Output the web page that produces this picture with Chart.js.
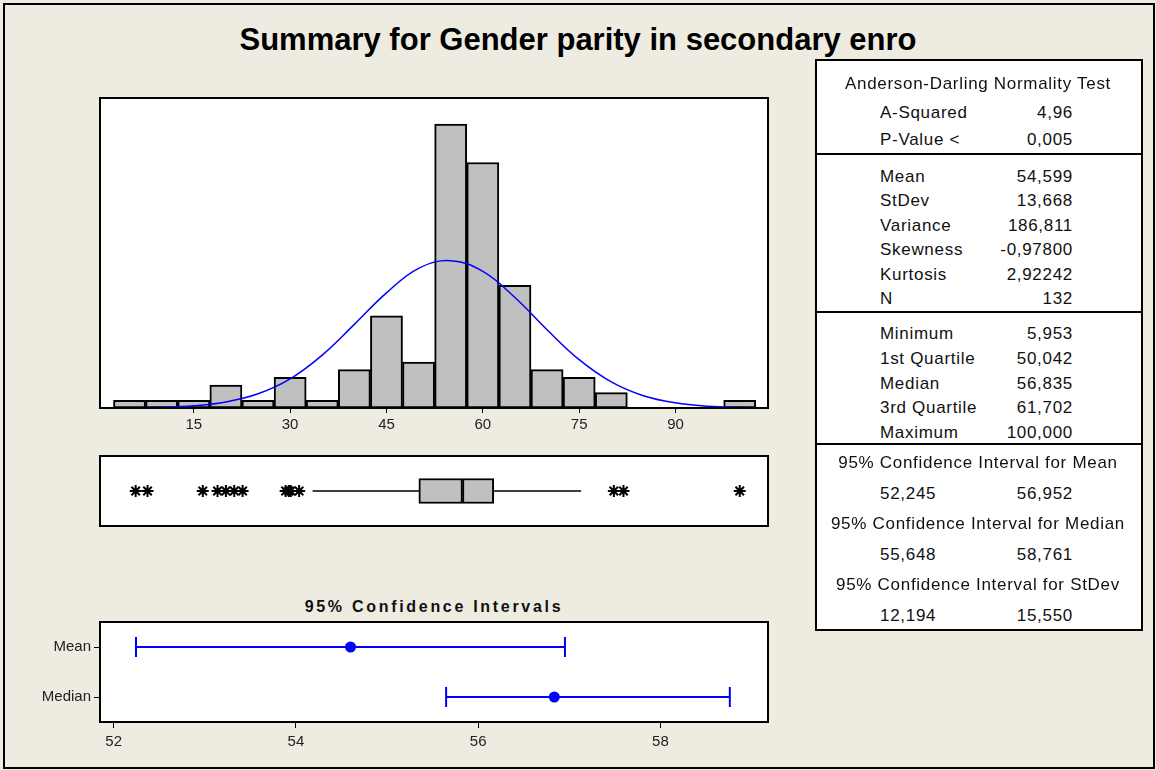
<!DOCTYPE html>
<html>
<head>
<meta charset="utf-8">
<script src="https://cdn.jsdelivr.net/npm/chart.js@4"></script>
<style>
body { margin: 0; background: #eeebe1; font-family: "Liberation Sans", Arial, sans-serif; }
#page { position: relative; width: 1156px; height: 770px; overflow: hidden; }
#outer { position: absolute; left: 3px; top: 3px; width: 1152px; height: 766px; border: 2px solid #000; box-sizing: border-box; }
canvas { position: absolute; }
.title { position: absolute; left: 178px; width: 800px; top: 20px; text-align: center; font-weight: bold; font-size: 31px; line-height: 40px; color: #000; }
.subtitle { position: absolute; left: 234px; width: 400px; top: 596px; text-align: center; font-weight: bold; font-size: 16px; line-height: 22px; letter-spacing: 2.7px; color: #111; }
#stats { position: absolute; left: 815px; top: 59px; width: 328px; height: 572px; background: #fff; border: 2px solid #000; box-sizing: border-box; }
.sep { position: absolute; left: 815px; width: 328px; height: 0; border-top: 2px solid #000; }
.t { position: absolute; height: 22px; line-height: 22px; font-size: 17px; letter-spacing: 0.7px; color: #111; white-space: nowrap; }
</style>
</head>
<body>
<div id="page">
  <div id="outer"></div>
  <div class="title">Summary for Gender parity in secondary enro</div>
  <canvas id="hist" width="690" height="350" style="left:90px;top:88px"></canvas>
  <canvas id="box" width="690" height="90" style="left:90px;top:446px"></canvas>
  <div class="subtitle">95% Confidence Intervals</div>
  <canvas id="ci" width="780" height="170" style="left:0px;top:590px"></canvas>
  <div id="stats"></div>
</div>
<script>
// histogram (bins of width 5)
const binCenters = [5, 10, 15, 20, 25, 30, 35, 40, 45, 50, 55, 60, 65, 70, 75, 80, 100];
const binCounts = [1, 1, 1, 3, 1, 4, 1, 5, 12, 6, 37, 32, 16, 5, 4, 2, 1];

// fitted normal curve
const curveX = [3.4, 5, 10, 15, 20, 25, 30, 35, 40, 45, 50, 55, 60, 65, 70, 75, 80, 85, 90, 95, 100, 104.4];
const curveY = [0.01, 0.03, 0.09, 0.29, 0.78, 1.85, 3.8, 6.9, 10.9, 15.0, 18.2, 19.2, 17.8, 14.4, 10.2, 6.3, 3.4, 1.6, 0.67, 0.24, 0.08, 0.03];
const xTicks = [15, 30, 45, 60, 75, 90];

// boxplot
const boxQ = [50.042, 56.835, 61.702];
const whiskers = [33.5, 75.3];
const outliers = [5.953, 7.8, 16.4, 18.7, 20.0, 21.3, 22.6, 29.3, 29.8, 30.1, 31.4, 80.4, 81.9, 100];

// confidence intervals
const ciLabels = ['Mean', 'Median'];
const ciLow = [52.245, 55.648];
const ciHigh = [56.952, 58.761];
const ciEst = [54.599, 56.835];
const ciTicks = [52, 54, 56, 58];

// stats table
const adHeader = 'Anderson-Darling Normality Test';
const adLabels = ['A-Squared', 'P-Value <'];
const adValues = ['4,96', '0,005'];
const descLabels = ['Mean', 'StDev', 'Variance', 'Skewness', 'Kurtosis', 'N'];
const descValues = ['54,599', '13,668', '186,811', '-0,97800', '2,92242', '132'];
const quartLabels = ['Minimum', '1st Quartile', 'Median', '3rd Quartile', 'Maximum'];
const quartValues = ['5,953', '50,042', '56,835', '61,702', '100,000'];
const ciHeaders = ['95% Confidence Interval for Mean', '95% Confidence Interval for Median', '95% Confidence Interval for StDev'];
const ciLowText = ['52,245', '55,648', '12,194'];
const ciHighText = ['56,952', '58,761', '15,550'];

const FONT = 'Liberation Sans, Arial, sans-serif';

// white plot area with a black frame
const framePlugin = {
  id: 'frame',
  beforeDraw(chart) {
    const { ctx, chartArea: a } = chart;
    ctx.save();
    ctx.fillStyle = '#fff';
    ctx.fillRect(a.left, a.top, a.width, a.height);
    ctx.restore();
  },
  afterDatasetsDraw(chart) {
    const { ctx, chartArea: a } = chart;
    ctx.save();
    ctx.strokeStyle = '#000';
    ctx.lineWidth = 2;
    ctx.strokeRect(a.left, a.top, a.width, a.height);
    ctx.restore();
  }
};

const baseOpts = {
  responsive: false,
  animation: false,
  events: [],
  plugins: { legend: { display: false }, tooltip: { enabled: false } }
};

new Chart(document.getElementById('hist'), {
  type: 'bar',
  data: {
    datasets: [
      {
        type: 'line',
        data: curveX.map((x, i) => ({ x, y: curveY[i] })),
        borderColor: '#0000ff',
        borderWidth: 1.5,
        pointRadius: 0,
        tension: 0.4,
        order: 0
      },
      {
        type: 'bar',
        data: binCenters.map((x, i) => ({ x, y: binCounts[i] })),
        backgroundColor: '#c0c0c0',
        borderColor: '#000',
        borderWidth: 2,
        borderSkipped: false,
        barPercentage: 1,
        categoryPercentage: 1,
        order: 1
      }
    ]
  },
  options: {
    ...baseOpts,
    layout: { padding: { left: 10, right: 12, top: 10, bottom: 0 } },
    scales: {
      x: {
        type: 'linear', min: 0.4, max: 104.4, offset: false,
        grid: { offset: false, drawOnChartArea: false, tickLength: 5, color: '#000' },
        border: { display: false },
        afterBuildTicks: s => { s.ticks = xTicks.map(v => ({ value: v })); },
        afterFit: s => { s.height = 30; },
        ticks: { font: { family: FONT, size: 15 }, color: '#222', padding: 3, maxRotation: 0, autoSkip: false }
      },
      y: { display: false, min: 0, max: 40.4 }
    }
  },
  plugins: [framePlugin]
});

new Chart(document.getElementById('box'), {
  type: 'bar',
  data: {
    datasets: [
      {
        type: 'line',
        data: [{ x: whiskers[0], y: 0.5 }, { x: whiskers[1], y: 0.5 }],
        borderColor: '#000', borderWidth: 1.5, pointRadius: 0, order: 3
      },
      {
        type: 'bar', indexAxis: 'y', grouped: false,
        data: [{ x: [boxQ[0], boxQ[1]], y: 0.5 }],
        backgroundColor: '#c0c0c0', borderColor: '#000', borderWidth: 2, borderSkipped: false,
        barThickness: 25, order: 2
      },
      {
        type: 'bar', indexAxis: 'y', grouped: false,
        data: [{ x: [boxQ[1], boxQ[2]], y: 0.5 }],
        backgroundColor: '#c0c0c0', borderColor: '#000', borderWidth: 2, borderSkipped: false,
        barThickness: 25, order: 2
      },
      {
        type: 'scatter',
        data: outliers.map(x => ({ x, y: 0.5 })),
        pointStyle: 'star', pointRadius: 6, borderColor: '#000', borderWidth: 2, order: 0
      }
    ]
  },
  options: {
    ...baseOpts,
    layout: { padding: { left: 10, right: 12, top: 10, bottom: 10 } },
    scales: {
      x: { type: 'linear', display: false, min: 0.4, max: 104.4, offset: false },
      y: { type: 'linear', display: false, min: 0, max: 1, offset: false }
    }
  },
  plugins: [framePlugin]
});

new Chart(document.getElementById('ci'), {
  type: 'line',
  data: {
    datasets: [
      ...ciLabels.map((lab, i) => ({
        data: [{ x: ciLow[i], y: lab }, { x: ciHigh[i], y: lab }],
        borderColor: '#0000ff', borderWidth: 2,
        pointStyle: 'line', pointRotation: 90, pointRadius: 10,
        pointBorderColor: '#0000ff', pointBorderWidth: 2
      })),
      {
        data: ciEst.map((x, i) => ({ x, y: ciLabels[i] })),
        showLine: false, pointStyle: 'circle', pointRadius: 5.5,
        backgroundColor: '#0000ff', borderColor: '#0000ff', pointBorderWidth: 0
      }
    ]
  },
  options: {
    ...baseOpts,
    layout: { padding: { left: 0, right: 12, top: 32, bottom: 0 } },
    scales: {
      x: {
        type: 'linear', min: 51.85, max: 59.18,
        grid: { drawOnChartArea: false, tickLength: 6, color: '#000' },
        border: { display: false },
        afterBuildTicks: s => { s.ticks = ciTicks.map(v => ({ value: v })); },
        afterFit: s => { s.height = 38; },
        ticks: { font: { family: FONT, size: 15 }, color: '#222', padding: 5, maxRotation: 0, autoSkip: false }
      },
      y: {
        type: 'category', labels: ciLabels, offset: true,
        grid: { drawOnChartArea: false, tickLength: 6, color: '#000' },
        border: { display: false },
        afterFit: s => { s.width = 100; },
        ticks: { font: { family: FONT, size: 15 }, color: '#222', padding: 3 }
      }
    }
  },
  plugins: [framePlugin]
});

// stats table text
const page = document.getElementById('page');
function put(str, x, y, align) {
  const d = document.createElement('div');
  d.className = 't';
  d.textContent = str;
  d.style.top = (y - 11) + 'px';
  if (align === 'right') d.style.right = (1156 - x) + 'px';
  else if (align === 'center') { d.style.left = (x - 200) + 'px'; d.style.width = '400px'; d.style.textAlign = 'center'; }
  else d.style.left = x + 'px';
  page.appendChild(d);
}
function sep(y) {
  const d = document.createElement('div');
  d.className = 'sep';
  d.style.top = (y - 1) + 'px';
  page.appendChild(d);
}
const LX = 880, RX = 1073, CX = 978;
put(adHeader, CX, 84, 'center');
adLabels.forEach((s, i) => { put(s, LX, 113 + i * 27, 'left'); put(adValues[i], RX, 113 + i * 27, 'right'); });
sep(154);
descLabels.forEach((s, i) => { put(s, LX, 177 + i * 24.4, 'left'); put(descValues[i], RX, 177 + i * 24.4, 'right'); });
sep(312);
quartLabels.forEach((s, i) => { put(s, LX, 334 + i * 24.8, 'left'); put(quartValues[i], RX, 334 + i * 24.8, 'right'); });
sep(444);
ciHeaders.forEach((s, i) => {
  put(s, CX, 463 + i * 61, 'center');
  put(ciLowText[i], LX, 494 + i * 61, 'left');
  put(ciHighText[i], RX, 494 + i * 61, 'right');
});
</script>
</body>
</html>
